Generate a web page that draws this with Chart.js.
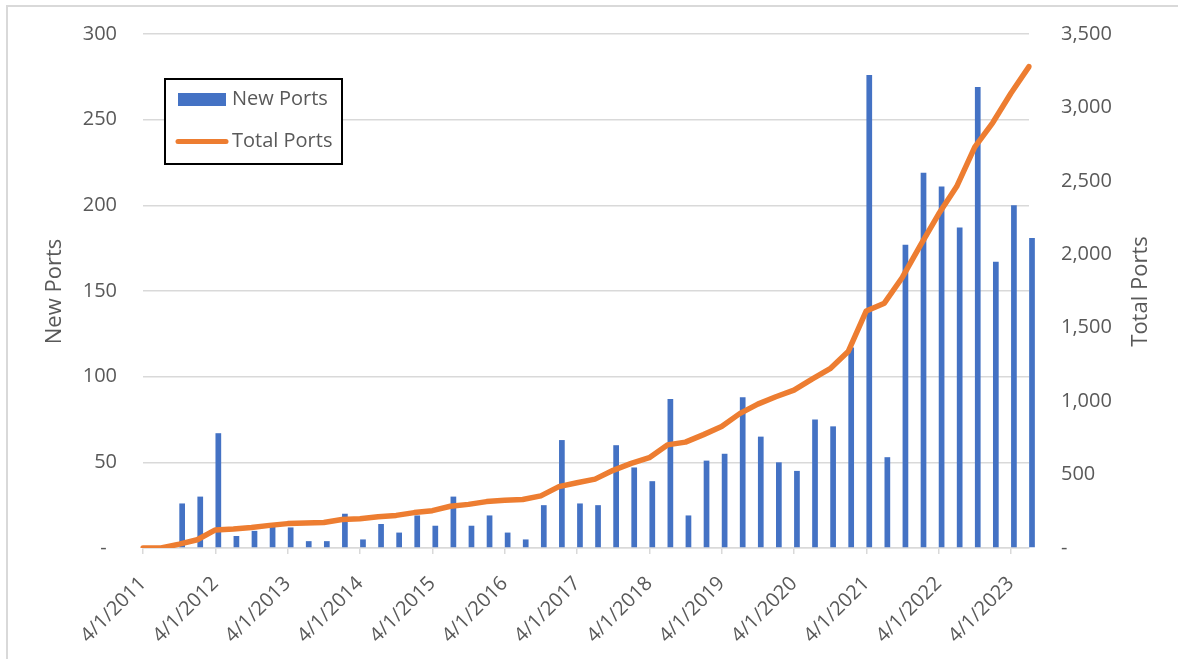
<!DOCTYPE html>
<html>
<head>
<meta charset="utf-8">
<title>New Ports and Total Ports</title>
<script src="https://cdn.jsdelivr.net/npm/chart.js@4.4.1/dist/chart.umd.min.js"></script>
<style>
  html, body { margin: 0; padding: 0; background: #ffffff; }
  #wrap { position: relative; width: 1178px; height: 659px; }
</style>
</head>
<body>
<div id="wrap"><canvas id="chart" width="1178" height="659"></canvas></div>
<script>
// Quarterly reporting dates
const quarters = [
  '4/1/2011', '7/1/2011', '10/1/2011', '1/1/2012',
  '4/1/2012', '7/1/2012', '10/1/2012', '1/1/2013',
  '4/1/2013', '7/1/2013', '10/1/2013', '1/1/2014',
  '4/1/2014', '7/1/2014', '10/1/2014', '1/1/2015',
  '4/1/2015', '7/1/2015', '10/1/2015', '1/1/2016',
  '4/1/2016', '7/1/2016', '10/1/2016', '1/1/2017',
  '4/1/2017', '7/1/2017', '10/1/2017', '1/1/2018',
  '4/1/2018', '7/1/2018', '10/1/2018', '1/1/2019',
  '4/1/2019', '7/1/2019', '10/1/2019', '1/1/2020',
  '4/1/2020', '7/1/2020', '10/1/2020', '1/1/2021',
  '4/1/2021', '7/1/2021', '10/1/2021', '1/1/2022',
  '4/1/2022', '7/1/2022', '10/1/2022', '1/1/2023',
  '4/1/2023', '7/1/2023'
];

// Ports added in each quarter
const newPorts = [
  0, 0, 26, 30, 67, 7, 10, 14, 12, 4,
  4, 20, 5, 14, 9, 19, 13, 30, 13, 19,
  9, 5, 25, 63, 26, 25, 60, 47, 39, 87,
  19, 51, 55, 88, 65, 50, 45, 75, 71, 117,
  276, 53, 177, 219, 211, 187, 269, 167, 200, 181
];

// Ports in service at each quarter
const totalPorts = [
  0, 0, 26, 56, 123, 130, 140, 154, 166, 170,
  174, 194, 199, 213, 222, 241, 254, 284, 297, 316,
  325, 330, 355, 418, 444, 469, 529, 576, 615, 702,
  721, 772, 827, 915, 980, 1030, 1075, 1150, 1221, 1338,
  1614, 1667, 1844, 2063, 2274, 2461, 2730, 2897, 3097, 3278
];

// Axis tick values
const newPortsTicks = [0, 50, 100, 150, 200, 250, 300];
const totalPortsTicks = [0, 500, 1000, 1500, 2000, 2500, 3000, 3500];

const TEXT = '#595959';
const GRID = '#d9d9d9';
const BLUE = '#4472C4';
const ORANGE = '#ED7D31';
const FONT = "'Open Sans', sans-serif";

Chart.defaults.font.family = FONT;
Chart.defaults.color = TEXT;

// Background, outer frame, axis titles and the boxed legend
const decorations = {
  id: 'decorations',
  beforeDraw(chart) {
    const c = chart.ctx;
    c.save();
    c.fillStyle = '#ffffff';
    c.fillRect(0, 0, chart.width, chart.height);
    c.strokeStyle = GRID;
    c.lineWidth = 2;
    c.beginPath();
    c.moveTo(7, chart.height);
    c.lineTo(7, 6);
    c.lineTo(chart.width, 6);
    c.stroke();
    c.restore();
  },
  afterDraw(chart) {
    const c = chart.ctx;
    const area = chart.chartArea;
    const midY = (area.top + area.bottom) / 2 + 0.5;

    // Axis titles, both reading bottom to top
    c.save();
    c.fillStyle = TEXT;
    c.font = '22px ' + FONT;
    c.textAlign = 'center';
    c.textBaseline = 'middle';
    [['New Ports', 55], ['Total Ports', 1141]].forEach(([txt, x]) => {
      c.save();
      c.translate(x, midY);
      c.rotate(-Math.PI / 2);
      c.fillText(txt, 0, 0);
      c.restore();
    });
    c.restore();

    // Legend box
    const bx = 165, by = 79, bw = 177, bh = 85;
    c.save();
    c.fillStyle = '#ffffff';
    c.fillRect(bx, by, bw, bh);
    c.strokeStyle = '#000000';
    c.lineWidth = 2;
    c.strokeRect(bx, by, bw, bh);

    const bars = chart.data.datasets.find(d => d.label === 'New Ports');
    const line = chart.data.datasets.find(d => d.label === 'Total Ports');

    c.fillStyle = bars.backgroundColor;
    c.fillRect(178, 93, 48, 13);

    c.strokeStyle = line.borderColor;
    c.lineWidth = 5;
    c.lineCap = 'round';
    c.beginPath();
    c.moveTo(178, 141.5);
    c.lineTo(226, 141.5);
    c.stroke();

    c.fillStyle = TEXT;
    c.font = '20px ' + FONT;
    c.textAlign = 'left';
    c.textBaseline = 'middle';
    c.fillText(bars.label, 232, 99.5);
    c.fillText(line.label, 232, 141.5);
    c.restore();
  }
};

// Fixed axis widths; tick label overhang is kept inside the top padding
function fixedWidth(w) {
  return scale => {
    scale.width = w;
    scale.paddingTop = 0;
    scale.paddingBottom = 0;
  };
}

new Chart(document.getElementById('chart'), {
  type: 'bar',
  data: {
    labels: quarters,
    datasets: [
      {
        type: 'line',
        label: 'Total Ports',
        data: totalPorts,
        yAxisID: 'yTotal',
        borderColor: ORANGE,
        backgroundColor: ORANGE,
        borderWidth: 5.5,
        borderJoinStyle: 'round',
        borderCapStyle: 'round',
        pointRadius: 0,
        tension: 0,
        order: 0
      },
      {
        // empty spacer series: keeps the columns just right of each date
        label: '',
        data: quarters.map(() => null),
        yAxisID: 'yNew',
        order: 1
      },
      {
        label: 'New Ports',
        data: newPorts,
        yAxisID: 'yNew',
        backgroundColor: BLUE,
        borderWidth: 0,
        clip: false,
        order: 1
      }
    ]
  },
  options: {
    responsive: false,
    animation: false,
    layout: { padding: { top: 34, left: 0, right: 0, bottom: 0 } },
    datasets: {
      bar: { categoryPercentage: 0.664, barPercentage: 0.95 }
    },
    plugins: {
      legend: { display: false },
      tooltip: { enabled: false }
    },
    scales: {
      x: {
        offset: false,
        grid: {
          offset: false,
          drawOnChartArea: false,
          drawTicks: true,
          tickLength: 6,
          lineWidth: 1.5,
          color: ctx => (ctx.index % 4 === 0 ? GRID : 'rgba(0,0,0,0)')
        },
        border: { display: true, color: GRID, width: 1.5 },
        ticks: {
          autoSkip: false,
          minRotation: 45,
          maxRotation: 45,
          padding: 18,
          color: TEXT,
          font: { size: 20 },
          callback(value, index) {
            return index % 4 === 0 ? this.getLabelForValue(value) : '';
          }
        },
        afterFit(scale) { scale.height = 111; }
      },
      yNew: {
        position: 'left',
        min: newPortsTicks[0],
        max: newPortsTicks[newPortsTicks.length - 1],
        grid: { color: GRID, lineWidth: 1.5, drawTicks: false },
        border: { display: false },
        ticks: {
          stepSize: newPortsTicks[1] - newPortsTicks[0],
          padding: 26,
          color: TEXT,
          font: { size: 20 },
          callback: v => (v === 0 ? '-  ' : String(v))
        },
        afterFit: fixedWidth(143)
      },
      yTotal: {
        position: 'right',
        min: totalPortsTicks[0],
        max: totalPortsTicks[totalPortsTicks.length - 1],
        grid: { drawOnChartArea: false, drawTicks: false },
        border: { display: false },
        ticks: {
          stepSize: totalPortsTicks[1] - totalPortsTicks[0],
          padding: 32,
          color: TEXT,
          font: { size: 20 },
          callback: v => (v === 0 ? '-' : v.toLocaleString('en-US'))
        },
        afterFit: fixedWidth(149)
      }
    }
  },
  plugins: [decorations]
});
</script>
</body>
</html>
